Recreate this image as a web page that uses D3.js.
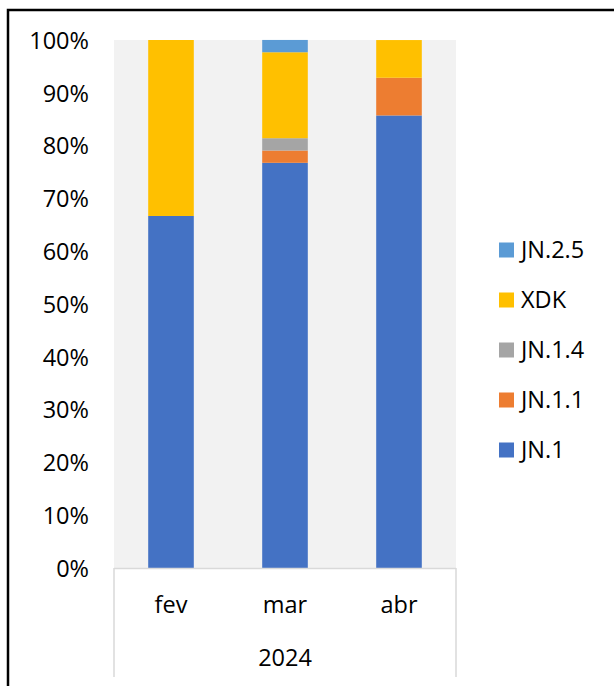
<!DOCTYPE html>
<html>
<head>
<meta charset="utf-8">
<script src="https://cdn.jsdelivr.net/npm/d3@7"></script>
<style>
  body { margin: 0; background: #fff; }
  text { font-family: "Open Sans", "Liberation Sans", sans-serif; fill: #000; }
</style>
</head>
<body>
<div id="chart"></div>
<script>
// months of 2024 and share of each lineage (in %)
var months = ["fev", "mar", "abr"];
var year = "2024";
var lineages = ["JN.1", "JN.1.1", "JN.1.4", "XDK", "JN.2.5"];
var colors = ["#4472C4", "#ED7D31", "#A5A5A5", "#FFC000", "#5B9BD5"];

var jn1   = [66.67, 76.74, 85.71];
var jn11  = [0,     2.33,  7.14];
var jn14  = [0,     2.33,  0];
var xdk   = [33.33, 16.28, 7.14];
var jn25  = [0,     2.33,  0];

var yTicks = [0, 10, 20, 30, 40, 50, 60, 70, 80, 90, 100];

var rows = months.map(function(m, i) {
  return { month: m, "JN.1": jn1[i], "JN.1.1": jn11[i], "JN.1.4": jn14[i], "XDK": xdk[i], "JN.2.5": jn25[i] };
});

var W = 614, H = 686;
var plot = { left: 114, right: 456, top: 40, bottom: 568 };
var fs = 23.5;

var svg = d3.select("#chart").append("svg")
    .attr("width", W)
    .attr("height", H);

// outer frame (only top and left edges show in the picture)
svg.append("rect")
    .attr("x", 8).attr("y", 10)
    .attr("width", 800).attr("height", 900)
    .attr("fill", "none")
    .attr("stroke", "#000")
    .attr("stroke-width", 2.5);

var x = d3.scaleBand()
    .domain(months)
    .range([plot.left, plot.right])
    .paddingInner(0.6)
    .paddingOuter(0.3);

var y = d3.scaleLinear()
    .domain([0, 100])
    .range([plot.bottom, plot.top]);

var color = d3.scaleOrdinal().domain(lineages).range(colors);

svg.append("rect")
    .attr("x", plot.left).attr("y", plot.top)
    .attr("width", plot.right - plot.left)
    .attr("height", plot.bottom - plot.top)
    .attr("fill", "#F2F2F2");

var series = d3.stack().keys(lineages)(rows);

svg.append("g").selectAll("g")
    .data(series)
  .enter().append("g")
    .attr("fill", function(d) { return color(d.key); })
  .selectAll("rect")
    .data(function(d) { return d; })
  .enter().append("rect")
    .attr("x", function(d) { return x(d.data.month); })
    .attr("width", x.bandwidth())
    .attr("y", function(d) { return y(d[1]); })
    .attr("height", function(d) { return y(d[0]) - y(d[1]); });

// y axis labels
var yAxis = svg.append("g")
    .attr("transform", "translate(" + 89 + ",0)")
    .call(d3.axisLeft(y).tickValues(yTicks).tickSize(0).tickPadding(0)
      .tickFormat(function(d) { return d + "%"; }));
yAxis.select(".domain").remove();
yAxis.selectAll("text")
    .attr("font-size", fs)
    .attr("font-family", null)
    .attr("dy", "0.35em");

// category axis box
var axisCol = "#D9D9D9";
svg.append("line")
    .attr("x1", plot.left).attr("x2", plot.right)
    .attr("y1", plot.bottom + 0.5).attr("y2", plot.bottom + 0.5)
    .attr("stroke", axisCol).attr("stroke-width", 1.5);
[plot.left, plot.right].forEach(function(px) {
  svg.append("line")
      .attr("x1", px).attr("x2", px)
      .attr("y1", plot.bottom).attr("y2", 677)
      .attr("stroke", axisCol).attr("stroke-width", 1.5);
});

svg.append("g").selectAll("text")
    .data(months)
  .enter().append("text")
    .attr("x", function(d) { return x(d) + x.bandwidth() / 2; })
    .attr("y", 605)
    .attr("dy", "0.35em")
    .attr("text-anchor", "middle")
    .attr("font-size", fs)
    .text(function(d) { return d; });

svg.append("text")
    .attr("x", (plot.left + plot.right) / 2)
    .attr("y", 658)
    .attr("dy", "0.35em")
    .attr("text-anchor", "middle")
    .attr("font-size", fs)
    .text(year);

// legend, top entry is the last series
var legend = svg.append("g").selectAll("g")
    .data(lineages.slice().reverse())
  .enter().append("g")
    .attr("transform", function(d, i) { return "translate(499," + (250 + i * 50) + ")"; });

legend.append("rect")
    .attr("x", 0).attr("y", -7.5)
    .attr("width", 15).attr("height", 15)
    .attr("fill", function(d) { return color(d); });

legend.append("text")
    .attr("x", 22)
    .attr("dy", "0.35em")
    .attr("font-size", fs)
    .text(function(d) { return d; });
</script>
</body>
</html>
